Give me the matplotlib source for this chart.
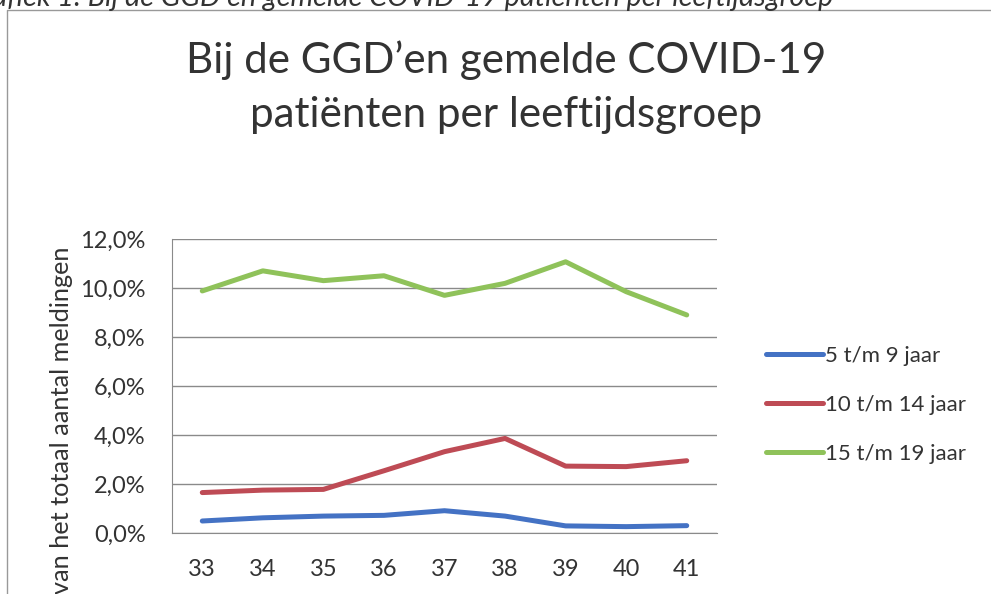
import matplotlib
matplotlib.use("Agg")
import matplotlib.pyplot as plt
from matplotlib.lines import Line2D

# weeknummers en percentages
weken = [33, 34, 35, 36, 37, 38, 39, 40, 41]
groep_5_9 = [0.49, 0.62, 0.69, 0.72, 0.91, 0.69, 0.29, 0.26, 0.30]
groep_10_14 = [1.65, 1.75, 1.78, 2.54, 3.32, 3.86, 2.73, 2.71, 2.95]
groep_15_19 = [9.88, 10.7, 10.3, 10.5, 9.7, 10.19, 11.07, 9.85, 8.9]
labels = ["5 t/m 9 jaar", "10 t/m 14 jaar", "15 t/m 19 jaar"]
kleuren = ["#4472c4", "#be4b55", "#8fc25a"]
y_ticks = [0, 2, 4, 6, 8, 10, 12]
y_labels = ["0,0%", "2,0%", "4,0%", "6,0%", "8,0%", "10,0%", "12,0%"]

W, H = 991, 594
plt.rcParams['font.family'] = ['Lato', 'DejaVu Sans']

fig = plt.figure(figsize=(W / 100, H / 100), dpi=100)


def fx(px):
    return px / W


def fy(py):
    return 1 - py / H


# plotgebied
ax = fig.add_axes([fx(172), fy(533), (717 - 172) / W, (533 - 239) / H])

for serie, lab, kl in zip([groep_5_9, groep_10_14, groep_15_19], labels, kleuren):
    ax.plot(weken, serie, color=kl, lw=3.6, label=lab, solid_capstyle='round', solid_joinstyle='round')

ax.set_xlim(32.5, 41.5)
ax.set_ylim(0, 12)
ax.set_yticks(y_ticks)
ax.set_yticklabels(y_labels)
ax.set_xticks(weken)
ax.grid(axis='y', color='#8a8a8a', lw=1)
ax.set_axisbelow(True)
for s in ['top', 'right']:
    ax.spines[s].set_visible(False)
ax.spines['left'].set_color('#8a8a8a')
ax.spines['bottom'].set_color('#8a8a8a')
ax.tick_params(axis='both', length=0, labelsize=17, labelcolor='#333333')
ax.yaxis.set_tick_params(pad=19)
ax.xaxis.set_tick_params(pad=19)

# legenda
ax.legend(loc='center left', bbox_to_anchor=(fx(746), fy(405)), bbox_transform=fig.transFigure,
          frameon=False, fontsize=16, handlelength=2.55, handletextpad=0.1, labelspacing=1.3,
          labelcolor='#333333')

# titel
fig.text(fx(506), fy(73), "Bij de GGD\u2019en gemelde COVID-19", ha='center', va='baseline',
         fontsize=30.3, color='#333333')
fig.text(fx(506), fy(127), "pati\u00ebnten per leeftijdsgroep", ha='center', va='baseline',
         fontsize=30.3, color='#333333')

# y-as titel, alleen het zichtbare deel
fig.text(fx(62), fy(246), "van het totaal aantal meldingen", rotation=90, ha='center', va='top',
         fontsize=18.2, color='#333333')

# bijschrift boven de kader, half afgesneden zoals in het origineel
fig.text(fx(833), fy(6), "Grafiek 1: Bij de GGD en gemelde COVID-19 pati\u00ebnten per leeftijdsgroep",
         ha='right', va='baseline', fontsize=20.7, style='italic', color='#333333')

# kaderrand
fig.add_artist(Line2D([fx(7), fx(7), fx(991)], [0, fy(10), fy(10)], color='#999999', lw=1,
                      transform=fig.transFigure))

fig.savefig("out.png", dpi=100)
